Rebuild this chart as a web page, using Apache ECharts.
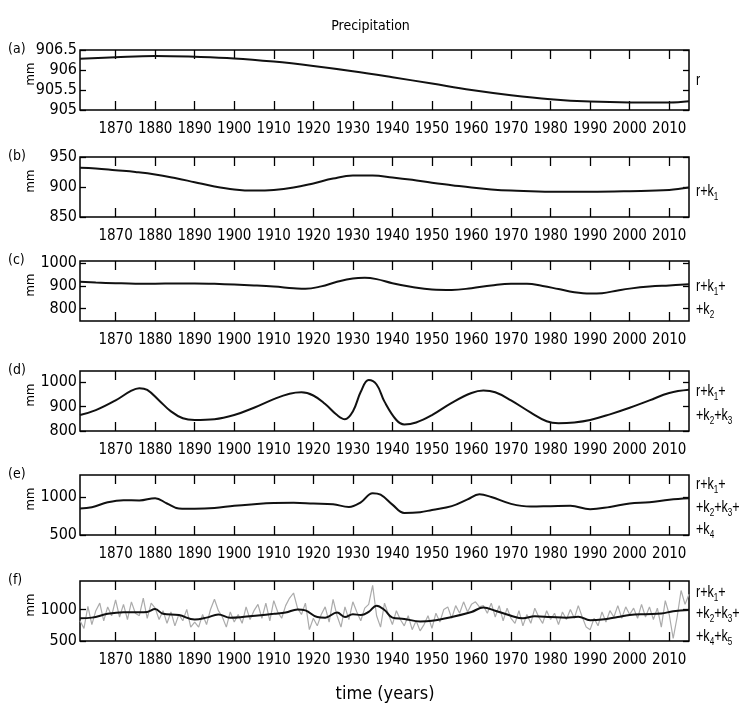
<!DOCTYPE html>
<html>
<head>
<meta charset="utf-8">
<script src="https://cdn.jsdelivr.net/npm/echarts@6/dist/echarts.min.js"></script>
<style>
  html, body { margin: 0; padding: 0; background: #fff; }
  #chart { width: 741px; height: 705px; }
</style>
</head>
<body>
<div id="chart"></div>
<script>
// Year ticks shared by every panel
const yearTicks = [1870, 1880, 1890, 1900, 1910, 1920, 1930, 1940, 1950, 1960, 1970, 1980, 1990, 2000, 2010];

// (a) residual trend r
const yearsA = [1861, 1870, 1880, 1890, 1900, 1910, 1920, 1930, 1940, 1950, 1960, 1970, 1980, 1990, 2000, 2010, 2015];
const valuesA = [906.28, 906.32, 906.35, 906.33, 906.29, 906.21, 906.1, 905.97, 905.82, 905.66, 905.5, 905.37, 905.27, 905.21, 905.19, 905.19, 905.22];

// (b) r + k1
const yearsB = [1861, 1865, 1870, 1875, 1880, 1885, 1890, 1895, 1900, 1905, 1910, 1915, 1920, 1925, 1930, 1935, 1940, 1945, 1950, 1955, 1960, 1965, 1970, 1975, 1980, 1990, 2000, 2010, 2015];
const valuesB = [932, 931, 928, 925, 921, 915, 908, 901, 896, 894, 895, 899, 906, 914, 919, 919, 916, 912, 907, 903, 899, 896, 894, 893, 892, 892, 893, 895, 899];

// (c) r + k1 + k2
const yearsC = [1861, 1865, 1870, 1875, 1880, 1885, 1890, 1895, 1900, 1905, 1910, 1915, 1918, 1922, 1926, 1930, 1933, 1936, 1940, 1945, 1950, 1955, 1960, 1965, 1970, 1974, 1978, 1982, 1986, 1990, 1993, 1997, 2000, 2005, 2010, 2015];
const valuesC = [918, 915, 912, 910, 910, 911, 911, 909, 906, 902, 897, 890, 887, 898, 918, 933, 936, 930, 912, 895, 884, 882, 890, 902, 910, 910, 900, 886, 872, 866, 868, 880, 888, 897, 902, 907];

// (d) r + k1 + k2 + k3
const yearsD = [1861, 1865, 1870, 1874, 1876, 1878, 1881, 1884, 1887, 1890, 1895, 1900, 1905, 1910, 1914, 1917, 1920, 1923, 1926, 1928, 1930, 1932, 1934, 1936, 1938, 1941, 1943, 1946, 1950, 1955, 1960, 1963, 1966, 1970, 1975, 1979, 1982, 1986, 1990, 1995, 2000, 2005, 2010, 2015];
const valuesD = [865, 885, 925, 965, 975, 968, 925, 880, 852, 845, 848, 865, 895, 930, 952, 958, 945, 910, 865, 848, 880, 960, 1008, 990, 920, 845, 827, 835, 865, 915, 955, 965, 958, 925, 875, 840, 832, 835, 845, 868, 895, 925, 955, 968];

// (e) r + k1 + k2 + k3 + k4
const yearsE = [1861, 1864, 1868, 1872, 1876, 1880, 1883, 1886, 1890, 1895, 1900, 1905, 1910, 1915, 1920, 1925, 1929, 1932, 1935, 1937, 1940, 1943, 1947, 1950, 1955, 1959, 1962, 1965, 1970, 1975, 1980, 1985, 1990, 1995, 2000, 2005, 2010, 2015];
const valuesE = [850, 865, 930, 958, 955, 985, 915, 850, 845, 855, 885, 905, 920, 925, 915, 905, 870, 930, 1050, 1030, 900, 790, 800, 830, 880, 970, 1035, 1000, 910, 875, 880, 885, 840, 870, 915, 930, 965, 985];

// (f) r + k1 + ... + k5, smooth reconstruction
const yearsF = [1861, 1864, 1868, 1872, 1876, 1878, 1880, 1882, 1886, 1890, 1893, 1896, 1899, 1902, 1906, 1910, 1913, 1916, 1918, 1921, 1923, 1926, 1928, 1930, 1932, 1934, 1936, 1938, 1940, 1943, 1947, 1950, 1955, 1960, 1963, 1966, 1970, 1973, 1976, 1980, 1984, 1987, 1990, 1993, 1997, 2000, 2004, 2008, 2011, 2015];
const valuesF = [860, 870, 930, 955, 955, 960, 1005, 930, 910, 840, 870, 920, 870, 880, 905, 930, 950, 1000, 985, 880, 870, 950, 880, 925, 910, 960, 1060, 990, 870, 850, 810, 820, 880, 960, 1030, 980, 900, 860, 890, 880, 870, 885, 830, 840, 880, 910, 925, 935, 970, 990];

// (f) annual precipitation, first year 1861
const annualStart = 1861;
const annualValues = [
  820, 700, 1050, 760, 980, 1100, 820, 1040, 900, 1150,    // 1861-1870
  880, 1080, 840, 1120, 940, 900, 1180, 860, 1100, 1020,   // 1871-1880
  840, 980, 780, 960, 740, 920, 820, 1000, 720, 800,       // 1881-1890
  720, 920, 760, 1000, 1160, 980, 880, 720, 960, 800,      // 1891-1900
  920, 780, 1040, 840, 980, 1080, 860, 1100, 820, 1140,    // 1901-1910
  960, 860, 1060, 1180, 1260, 1020, 920, 1100, 680, 860,   // 1911-1920
  740, 920, 1040, 800, 1160, 900, 720, 1040, 840, 1120,    // 1921-1930
  960, 820, 1020, 1080, 1380, 900, 720, 1100, 920, 760,    // 1931-1940
  980, 840, 740, 900, 680, 820, 660, 760, 900, 700,        // 1941-1950
  940, 800, 1000, 1040, 860, 1060, 940, 1120, 960, 1080,   // 1951-1960
  1120, 1040, 1060, 940, 1100, 880, 1060, 820, 1020, 860,  // 1961-1970
  780, 980, 740, 920, 780, 1020, 880, 780, 980, 840,       // 1971-1980
  940, 760, 960, 840, 1000, 860, 1060, 880, 720, 680,      // 1981-1990
  860, 740, 960, 800, 980, 880, 1060, 860, 1040, 920,      // 1991-2000
  1020, 860, 1080, 880, 1040, 840, 1020, 720, 1140, 920,   // 2001-2010
  540, 880, 1300, 1080, 1240                               // 2011-2015
];

// Panel y ranges and labelled ticks
const yMin = [905, 850, 745, 800, 500, 500];
const yMax = [906.5, 950, 1010, 1045, 1290, 1450];
const yTickValues = [
  [905, 905.5, 906, 906.5],
  [850, 900, 950],
  [800, 900, 1000],
  [800, 900, 1000],
  [500, 1000],
  [500, 1000]
];
const panelLetters = ['(a)', '(b)', '(c)', '(d)', '(e)', '(f)'];
// Component sums written at the right of each panel, one entry per text line
const sumLabels = [
  [['r']],
  [['r+k', '1', '']],
  [['r+k', '1', '+'], ['+k', '2', '']],
  [['r+k', '1', '+'], ['+k', '2', '+k', '3', '']],
  [['r+k', '1', '+'], ['+k', '2', '+k', '3', '+'], ['+k', '4', '']],
  [['r+k', '1', '+'], ['+k', '2', '+k', '3', '+'], ['+k', '4', '+k', '5', '']]
];

const FONT = "'DejaVu Sans Condensed', 'Liberation Sans Narrow', sans-serif";
const SUMFONT = "'Liberation Sans', Arial, sans-serif";
const gridTops = [50, 157, 261, 371, 475, 581];
const gridH = 60;
const gridLeft = 80;
const gridRight = 52;

function pairs(xs, ys) { return xs.map((x, i) => [x, ys[i]]); }
function plain(v) { return String(v); }

const grids = [], xAxes = [], yAxes = [], series = [], graphics = [];

gridTops.forEach((top, i) => {
  grids.push({
    left: gridLeft, right: gridRight, top: top, height: gridH,
    show: true, borderColor: '#000', borderWidth: 1.5, backgroundColor: '#fff'
  });
  // bottom axis with year labels
  xAxes.push({
    type: 'value', gridIndex: i, position: 'bottom', min: 1861, max: 2015,
    axisLine: { show: false },
    splitLine: { show: false },
    axisTick: { inside: true, length: 9, customValues: yearTicks, lineStyle: { color: '#000', width: 1.3 } },
    axisLabel: {
      customValues: yearTicks, formatter: plain, showMinLabel: true, showMaxLabel: true, hideOverlap: false,
      color: '#000', fontFamily: FONT, fontSize: 15, margin: 12
    }
  });
  // mirrored ticks along the top edge
  xAxes.push({
    type: 'value', gridIndex: i, position: 'top', min: 1861, max: 2015,
    axisLine: { show: false },
    splitLine: { show: false },
    axisTick: { inside: true, length: 9, customValues: yearTicks, lineStyle: { color: '#000', width: 1.3 } },
    axisLabel: { show: false }
  });
  yAxes.push({
    type: 'value', gridIndex: i, position: 'left', min: yMin[i], max: yMax[i],
    axisLine: { show: false },
    splitLine: { show: false },
    axisTick: { inside: true, length: 6, customValues: yTickValues[i], lineStyle: { color: '#000', width: 1.3 } },
    axisLabel: {
      customValues: yTickValues[i], formatter: plain, showMinLabel: true, showMaxLabel: true, hideOverlap: false,
      color: '#000', fontFamily: FONT, fontSize: 16, margin: 3
    }
  });
  yAxes.push({
    type: 'value', gridIndex: i, position: 'right', min: yMin[i], max: yMax[i],
    axisLine: { show: false },
    splitLine: { show: false },
    axisTick: { inside: true, length: 6, customValues: yTickValues[i], lineStyle: { color: '#000', width: 1.3 } },
    axisLabel: { show: false }
  });

  // panel letter and unit
  graphics.push({
    type: 'text', left: 8, top: top - 8,
    style: { text: panelLetters[i], font: '14px ' + FONT, fill: '#000' }
  });
  graphics.push({
    type: 'text', x: 31, y: top + gridH / 2 - 6, rotation: Math.PI / 2,
    style: { text: 'mm', font: '13px ' + FONT, fill: '#000', align: 'center', verticalAlign: 'middle' }
  });
});

const annual = annualValues.map((v, i) => [annualStart + i, v]);

const smooth = [
  pairs(yearsA, valuesA), pairs(yearsB, valuesB), pairs(yearsC, valuesC),
  pairs(yearsD, valuesD), pairs(yearsE, valuesE), pairs(yearsF, valuesF)
];

series.push({
  type: 'line', xAxisIndex: 10, yAxisIndex: 10, data: annual,
  showSymbol: false, silent: true, z: 2,
  lineStyle: { color: '#ababab', width: 1.2 }
});
smooth.forEach((d, i) => {
  series.push({
    type: 'line', xAxisIndex: 2 * i, yAxisIndex: 2 * i, data: d,
    smooth: 0.4, showSymbol: false, silent: true, z: 3,
    lineStyle: { color: '#111', width: 2 }
  });
});

// right-hand component labels with subscript indices (narrowed horizontally)
const lineOffsets = [
  [30],
  [34],
  [25, 48],
  [20, 44],
  [9, 32, 54],
  [11, 32, 55]
];
sumLabels.forEach((lines, i) => {
  lines.forEach((parts, j) => {
    let rich = '';
    parts.forEach((p, k) => {
      if (p === '') return;
      rich += (k % 2 === 0) ? '{m|' + p + '}' : '{s|' + p + '}';
    });
    graphics.push({
      type: 'text', x: 696, y: gridTops[i] + lineOffsets[i][j], scaleX: 0.74,
      style: {
        text: rich,
        verticalAlign: 'middle',
        rich: {
          m: { font: '17px ' + SUMFONT, fill: '#000', lineHeight: 23, verticalAlign: 'middle' },
          s: { font: '11px ' + SUMFONT, fill: '#000', lineHeight: 11, verticalAlign: 'bottom' }
        }
      }
    });
  });
});

const chart = echarts.init(document.getElementById('chart'), null, { renderer: 'canvas' });
chart.setOption({
  backgroundColor: '#fff',
  animation: false,
  title: {
    text: 'Precipitation', left: 'center', top: 14,
    textStyle: { fontFamily: FONT, fontSize: 14, fontWeight: 'normal', color: '#000' }
  },
  grid: grids,
  xAxis: xAxes,
  yAxis: yAxes,
  series: series,
  graphic: graphics.concat([{
    type: 'text', x: 385, y: 694,
    style: { text: 'time (years)', font: '18px ' + FONT, fill: '#000', align: 'center', verticalAlign: 'middle' }
  }])
});
</script>
</body>
</html>
